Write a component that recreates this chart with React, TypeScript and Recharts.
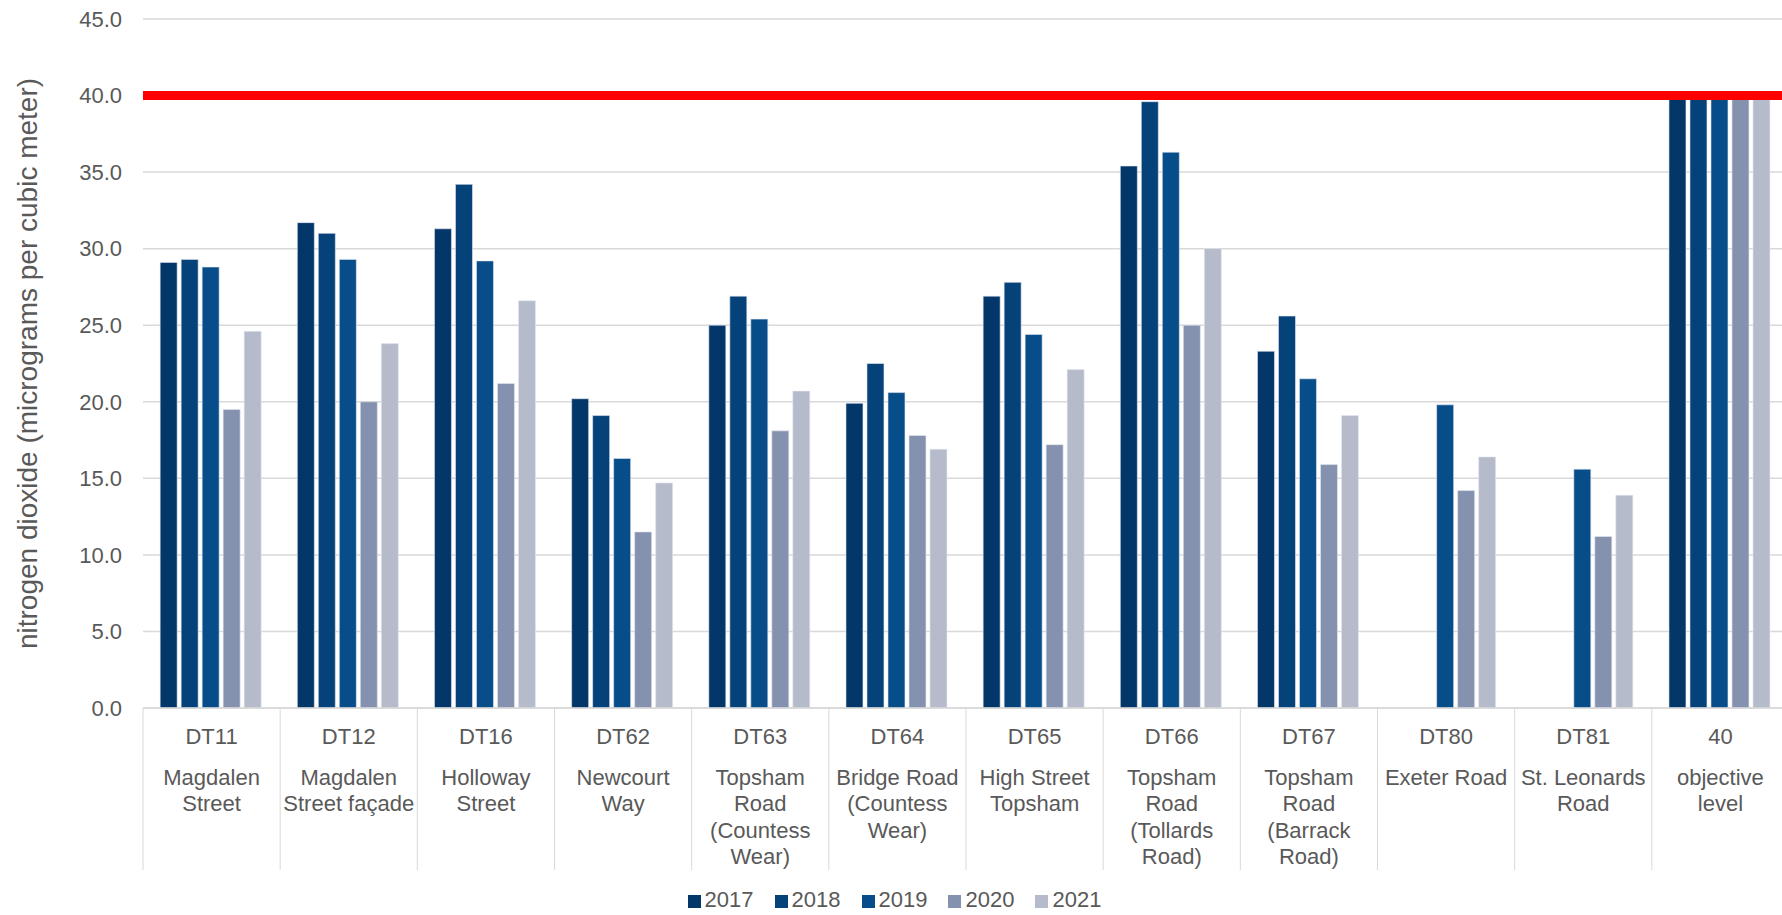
import { Bar, BarChart, CartesianGrid, Label, Legend, ReferenceLine, XAxis, YAxis } from "recharts"

// NO2 diffusion tube annual means, µg/m³ (null = tube not in place that year)
const siteCodes = ["DT11", "DT12", "DT16", "DT62", "DT63", "DT64", "DT65", "DT66", "DT67", "DT80", "DT81", "40"]
const siteNames = [
  ["Magdalen", "Street"],
  ["Magdalen", "Street façade"],
  ["Holloway", "Street"],
  ["Newcourt", "Way"],
  ["Topsham", "Road", "(Countess", "Wear)"],
  ["Bridge Road", "(Countess", "Wear)"],
  ["High Street", "Topsham"],
  ["Topsham", "Road", "(Tollards", "Road)"],
  ["Topsham", "Road", "(Barrack", "Road)"],
  ["Exeter Road"],
  ["St. Leonards", "Road"],
  ["objective", "level"],
]
const years = ["2017", "2018", "2019", "2020", "2021"]
const no2_2017 = [29.1, 31.7, 31.3, 20.2, 25.0, 19.9, 26.9, 35.4, 23.3, null, null, 40]
const no2_2018 = [29.3, 31.0, 34.2, 19.1, 26.9, 22.5, 27.8, 39.6, 25.6, null, null, 40]
const no2_2019 = [28.8, 29.3, 29.2, 16.3, 25.4, 20.6, 24.4, 36.3, 21.5, 19.8, 15.6, 40]
const no2_2020 = [19.5, 20.0, 21.2, 11.5, 18.1, 17.8, 17.2, 25.0, 15.9, 14.2, 11.2, 40]
const no2_2021 = [24.6, 23.8, 26.6, 14.7, 20.7, 16.9, 22.1, 30.0, 19.1, 16.4, 13.9, 40]
const yTicks = [0, 5, 10, 15, 20, 25, 30, 35, 40, 45]
const objectiveLevel = 40

const yearColors = ["#03376a", "#054279", "#064d89", "#8592af", "#b6bbcb"]
const seriesValues = [no2_2017, no2_2018, no2_2019, no2_2020, no2_2021]

const data = siteCodes.map((code, i) => {
  const row: Record<string, string | number | null> = { code }
  years.forEach((y, s) => {
    row[y] = seriesValues[s][i]
  })
  return row
})

const FONT = '"Liberation Sans", Arial, sans-serif'
const TEXT = "#595959"
const GRID = "#d9d9d9"

const CHART_W = 1790
const CHART_H = 915
const AXIS_W = 143
const BAND_HALF = (CHART_W - AXIS_W - 1) / siteCodes.length / 2

const lineOffsets = [77, 103, 129.5, 156]

function SiteTick(props: any) {
  const { x, y, payload } = props
  const i = siteCodes.indexOf(payload.value)
  const half = payload.offset || BAND_HALF
  return (
    <g>
      <line x1={x - half} x2={x - half} y1={y} y2={y + 162} stroke={GRID} strokeWidth={1} />
      <text x={x} y={y + 36} textAnchor="middle" fontSize={22} fill={TEXT} fontFamily={FONT}>
        {payload.value}
      </text>
      {(siteNames[i] || []).map((line, k) => (
        <text key={k} x={x} y={y + lineOffsets[k]} textAnchor="middle" fontSize={22} fill={TEXT} fontFamily={FONT}>
          {line}
        </text>
      ))}
    </g>
  )
}

function YTitle(props: any) {
  const vb = props.viewBox
  const cx = vb.x + 27
  const cy = vb.y + vb.height / 2
  return (
    <text
      x={cx}
      y={cy}
      transform={`rotate(-90 ${cx} ${cy})`}
      textAnchor="middle"
      dominantBaseline="central"
      fontSize={28}
      fill={TEXT}
      fontFamily={FONT}
    >
      nitrogen dioxide (micrograms per cubic meter)
    </text>
  )
}

function YearLegend() {
  return (
    <div
      style={{
        display: "flex",
        justifyContent: "center",
        alignItems: "center",
        gap: 21,
        height: 30,
        fontSize: 22,
        color: TEXT,
        fontFamily: FONT,
      }}
    >
      {years.map((y, i) => (
        <span key={y} style={{ display: "flex", alignItems: "center" }}>
          <span style={{ width: 13, height: 13, background: yearColors[i], marginRight: 4, marginTop: 3 }} />
          {y}
        </span>
      ))}
    </div>
  )
}

export default function App() {
  return (
    <div
      style={{
        position: "fixed",
        left: 0,
        top: 0,
        width: 1782,
        height: 915,
        overflow: "hidden",
        background: "#fff",
      }}
    >
      <BarChart
        width={CHART_W}
        height={CHART_H}
        data={data}
        margin={{ top: 19, right: 1, bottom: 0, left: 0 }}
        barCategoryGap="12.5%"
        barGap={4}
      >
        <CartesianGrid vertical={false} stroke={GRID} strokeWidth={1.5} />
        <XAxis
          dataKey="code"
          height={177}
          interval={0}
          tickSize={0}
          tickMargin={0}
          tickLine={false}
          axisLine={{ stroke: GRID, strokeWidth: 1.5 }}
          tick={<SiteTick />}
        />
        <YAxis
          width={AXIS_W}
          domain={[0, 45]}
          ticks={yTicks}
          interval={0}
          tickFormatter={(v: number) => v.toFixed(1)}
          tickLine={false}
          axisLine={false}
          tickSize={6}
          tickMargin={15}
          tick={{ fontSize: 22, fill: TEXT, fontFamily: FONT }}
        >
          <Label content={<YTitle />} />
        </YAxis>
        {years.map((y, i) => (
          <Bar
            key={y}
            dataKey={y}
            fill={yearColors[i]}
            stroke="#e4e8f0"
            strokeWidth={0.6}
            isAnimationActive={false}
          />
        ))}
        <ReferenceLine y={objectiveLevel} stroke="#ff0000" strokeWidth={9} />
        <Legend verticalAlign="bottom" align="center" content={<YearLegend />} />
      </BarChart>
    </div>
  )
}
